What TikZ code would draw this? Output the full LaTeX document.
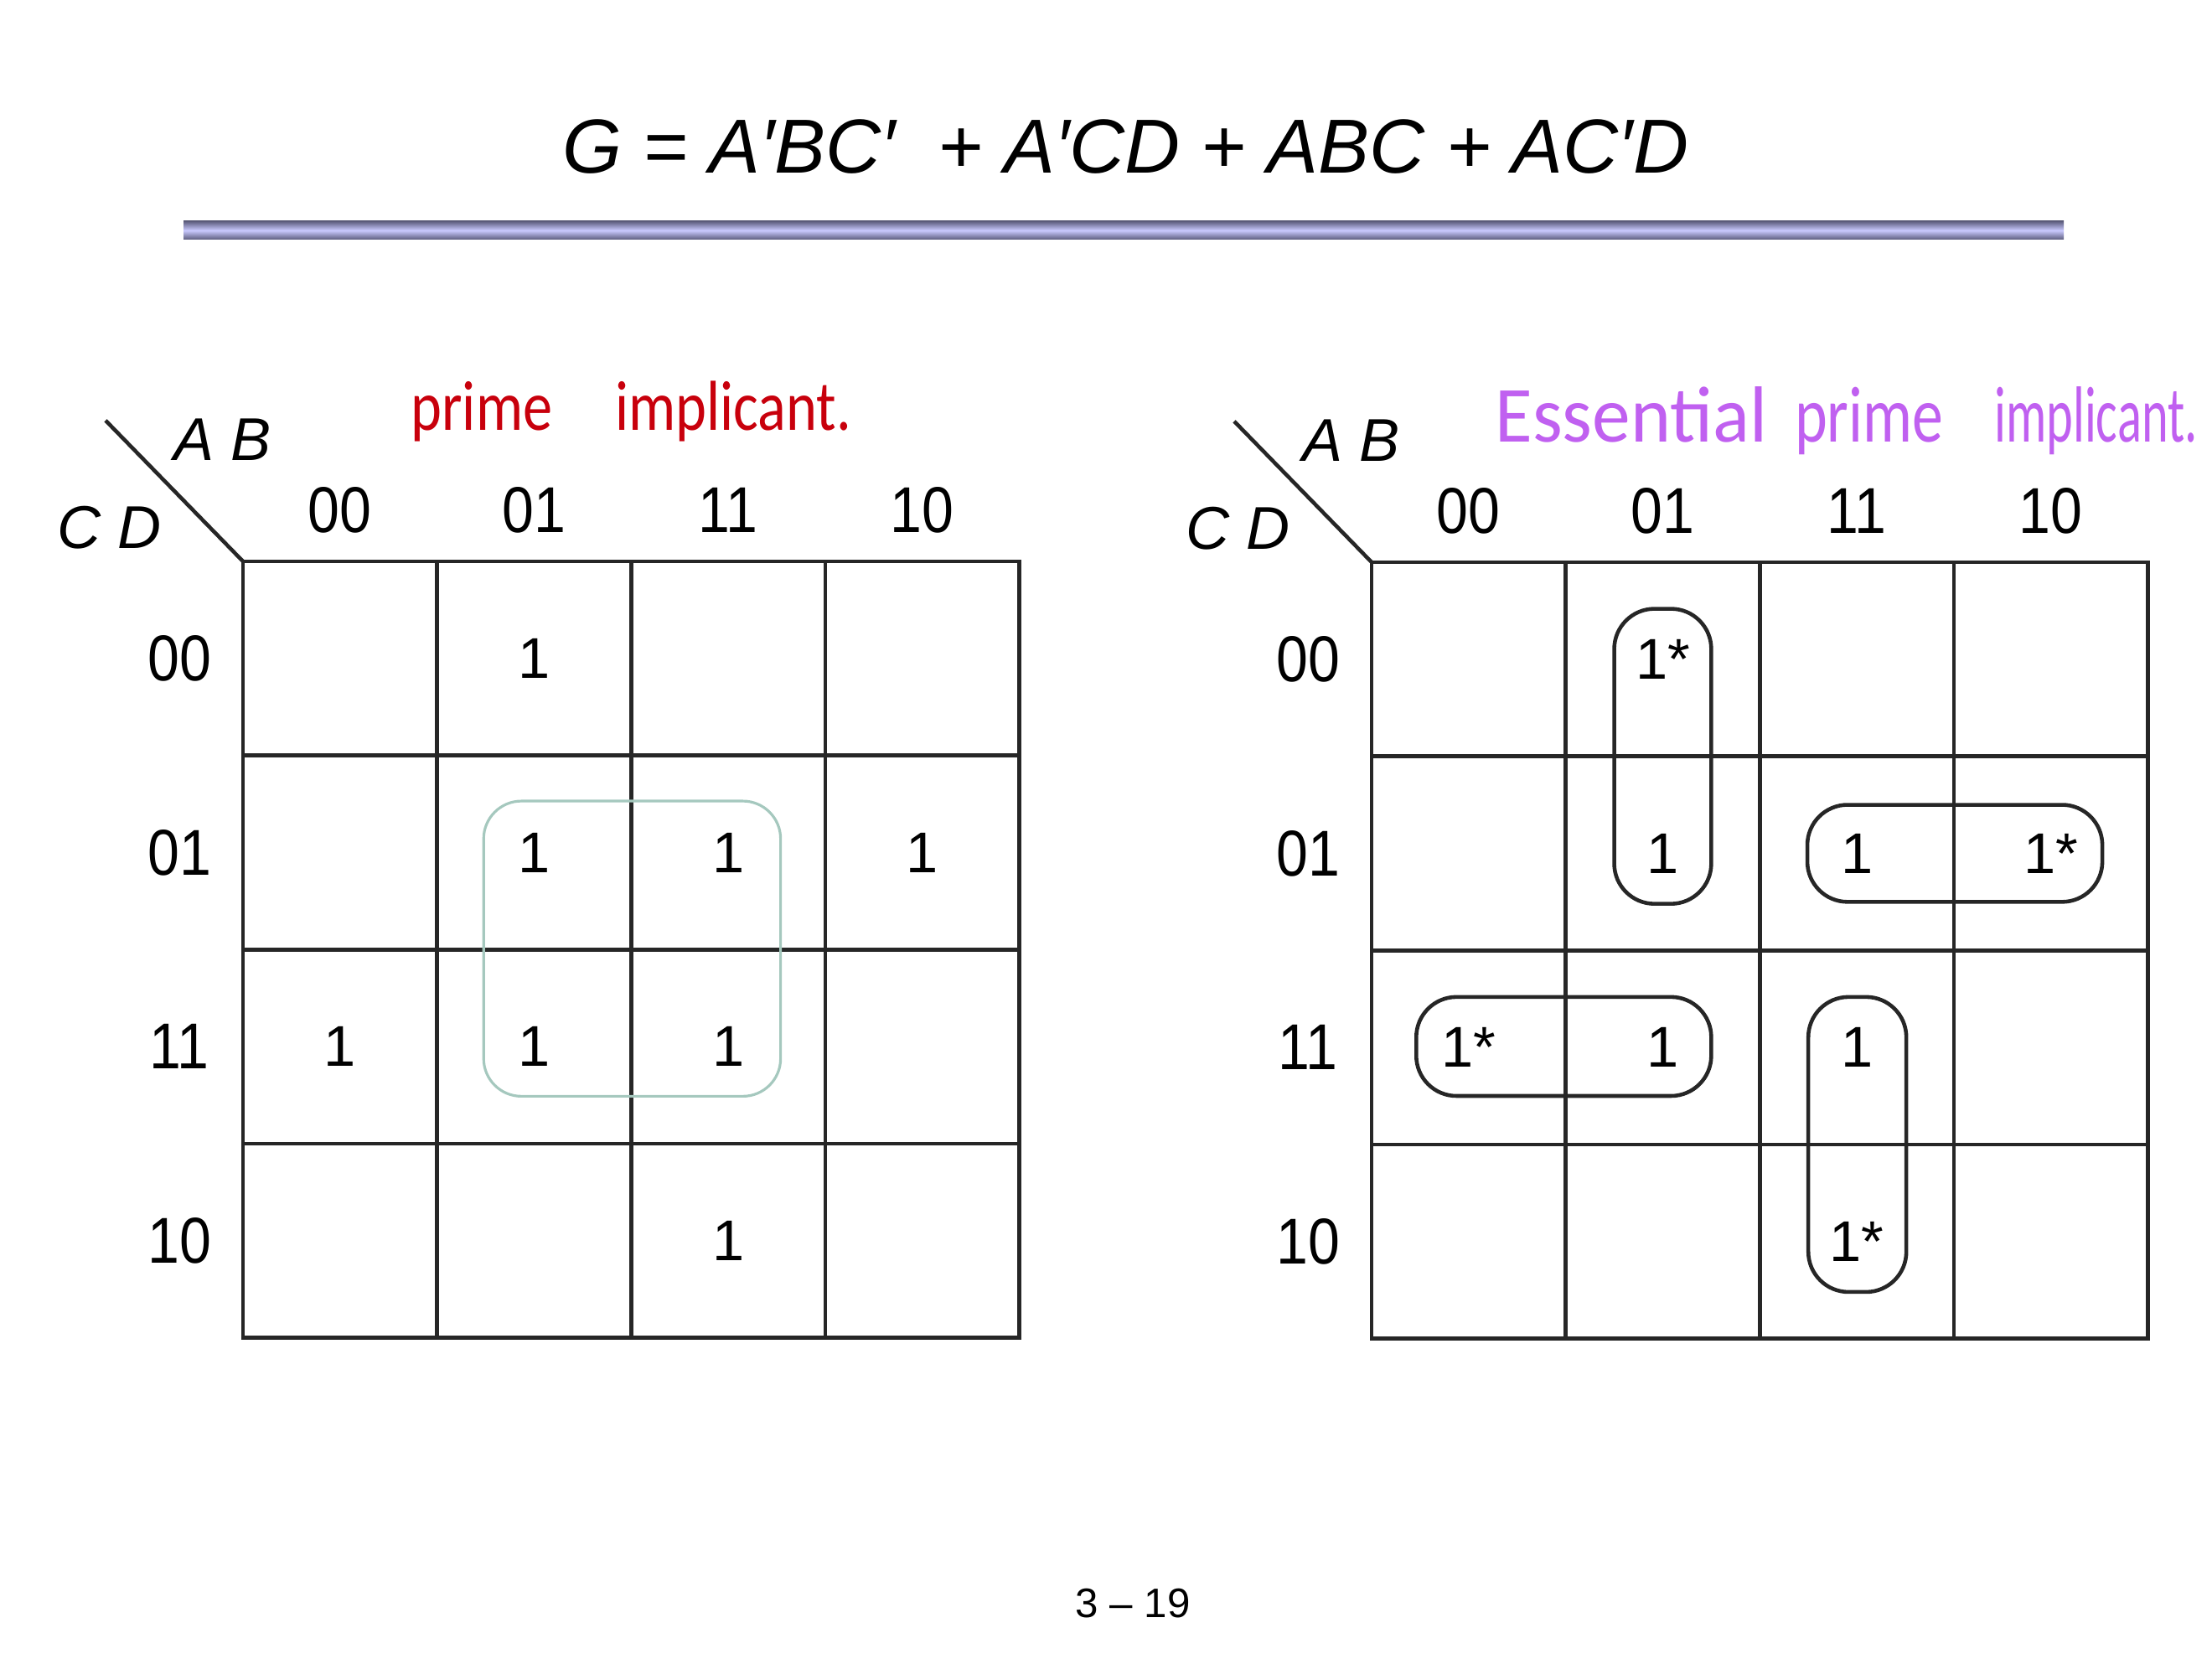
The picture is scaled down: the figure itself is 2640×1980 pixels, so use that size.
\documentclass[tikz,border=0pt]{standalone}
\usepackage{fontspec}
\setmainfont{Liberation Sans}
\newfontfamily\handfont{Carlito}
\usepackage{graphicx}
\usepackage{tikz}
\usepackage{xcolor}

\definecolor{barDark}{RGB}{92,92,124}
\definecolor{barLight}{RGB}{202,202,255}
\definecolor{handRed}{RGB}{200,0,12}
\definecolor{handPurple}{RGB}{192,96,240}
\definecolor{loopGreen}{RGB}{165,200,190}

\newcommand{\nar}[1]{\scalebox{0.88}[1]{#1}}
\newcommand{\tall}[3]{\scalebox{#1}[#2]{#3}}

\tikzset{
	kgrid/.style={line width=1.3pt, black!85},
	bitlbl/.style={font=\fontsize{22}{22}\selectfont},
	varlbl/.style={font=\fontsize{20.5}{20.5}\selectfont\itshape},
	one/.style={font=\fontsize{19.5}{19.5}\selectfont},
	primeloop/.style={loopGreen, line width=0.9pt, rounded corners=0.45cm},
	essloop/.style={black!85, line width=1.3pt, rounded corners=0.48cm},
	hand/.style={font=\handfont\fontsize{20}{20}\selectfont, anchor=base west},
}

\begin{document}
\begin{tikzpicture}[x=0.01cm,y=-0.01cm]
		
		\useasboundingbox (0,0) rectangle (2640,1980);
		
		% Title and bar
		\node (title) at (1343,175) {\fontsize{26}{26}\selectfont\itshape G = A′BC′\ \ + A′CD + ABC + AC′D};
		\shade[top color=barDark, bottom color=barDark, middle color=barLight] (219,264) rectangle (2463,286);
		
		% Grids and headers of both maps
		\foreach \ox/\oy/\m in {290/670/L,1637/671/R}{
			\begin{scope}[shift={(\ox,\oy)}, x=2.315cm, y=-2.315cm]
				\foreach \i in {1,2,3}{
					\draw[kgrid] (\i,0) -- (\i,4);
					\draw[kgrid] (0,\i) -- (4,\i);
				}
				\draw[kgrid] (0,0) rectangle (4,4);
				\coordinate (\m-corner) at (0,0);
				\coordinate (\m-tip) at (-0.708,-0.726);
				\draw[kgrid] (\m-tip) -- (\m-corner);
				\node[varlbl] (\m-ab) at (-0.104,-0.626) {A B};
				\node[varlbl] (\m-cd) at (-0.687,-0.173) {C D};
				\foreach \b [count=\k from 0] in {00,01,11,10}{
					\node[bitlbl] (\m-col\b) at (\k+0.5,-0.263) {\nar{\b}};
					\node[bitlbl] (\m-row\b) at (-0.328,\k+0.5) {\nar{\b}};
				}
			\end{scope}
		}
		
		% Left map: ones and a prime implicant
		\begin{scope}[shift={(290,670)}, x=2.315cm, y=-2.315cm]
			\foreach \c/\r in {1/0,1/1,2/1,3/1,0/2,1/2,2/2,2/3}
			\node[one] (L-\c\r) at (\c+0.5,\r+0.5) {1};
			\draw[primeloop] (1.24,1.235) rectangle (2.77,2.756);
		\end{scope}
		
		% Right map: ones and essential prime implicants
		\begin{scope}[shift={(1637,671)}, x=2.315cm, y=-2.315cm]
			\foreach \c/\r/\v in {1/0/1*,1/1/1,2/1/1,3/1/1*,0/2/1*,1/2/1,2/2/1,2/3/1*}
			\node[one] (R-\c\r) at (\c+0.5,\r+0.5) {\v};
			\draw[essloop] (1.25,0.24) rectangle (1.75,1.76);
			\draw[essloop] (2.245,1.25) rectangle (3.765,1.75);
			\draw[essloop] (0.23,2.24) rectangle (1.75,2.75);
			\draw[essloop] (2.25,2.24) rectangle (2.755,3.76);
		\end{scope}
		
		% Hand notes
		\node[hand, handRed] (primeNote) at (478,514) {\tall{1}{1.2}{prime\hspace{0.75cm}implicant.}};
		\node[hand, handPurple] (essNote) at (1772,528) {\tall{1.3}{1.35}{Essential}\hspace{0.33cm}\tall{1.05}{1.35}{prime}\hspace{0.61cm}\tall{0.86}{1.35}{implicant.}};
		
		% Page number
		\node (pageno) at (1352,1914) {\fontsize{14}{14}\selectfont 3 – 19};
		
	\end{tikzpicture}
\end{document}
